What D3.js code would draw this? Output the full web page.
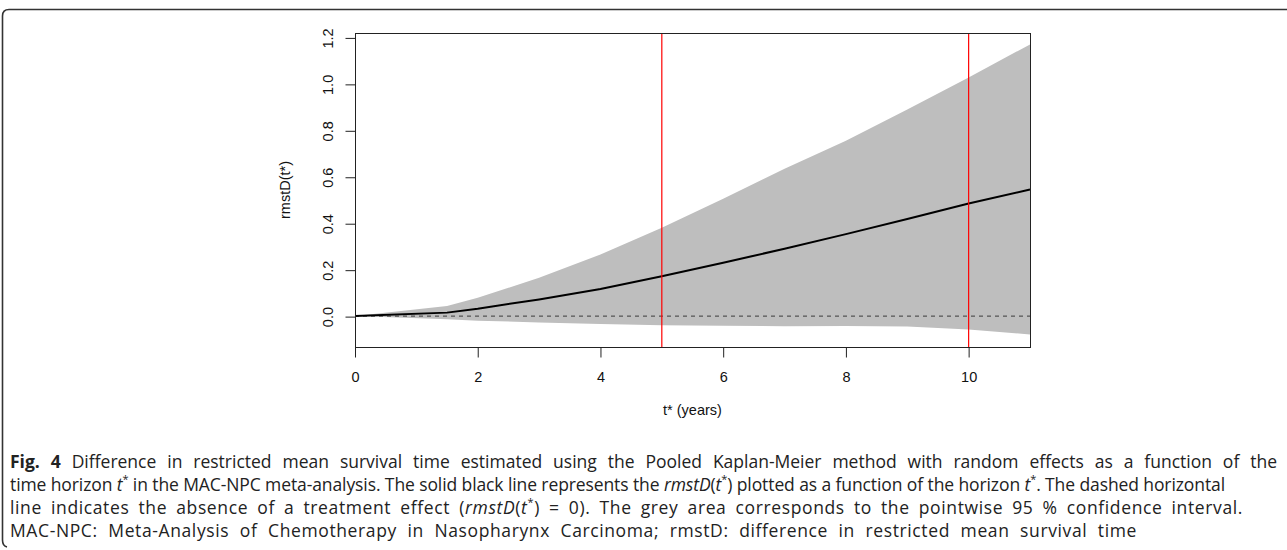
<!DOCTYPE html>
<html><head><meta charset="utf-8">
<script src="https://cdn.jsdelivr.net/npm/d3@7/dist/d3.min.js"></script>
<style>
html,body{margin:0;padding:0;background:#fff;}
svg{display:block;}
</style></head>
<body>
<svg id="fig" width="1287" height="550"></svg>
<script>
// ---- data ----
const years  = [0, 1.5, 2, 3, 4, 5, 6, 7, 8, 9, 10, 11];
const rmstD  = [0, 0.015, 0.032, 0.072, 0.117, 0.172, 0.230, 0.290, 0.353, 0.418, 0.485, 0.545];
const upper  = [0, 0.044, 0.079, 0.165, 0.265, 0.380, 0.505, 0.635, 0.755, 0.890, 1.027, 1.170];
const lower  = [0, -0.014, -0.020, -0.027, -0.034, -0.039, -0.041, -0.044, -0.043, -0.045, -0.058, -0.079];
const horizons = [5, 10];
const xTicks = [0, 2, 4, 6, 8, 10];
const yTicks = [0.0, 0.2, 0.4, 0.6, 0.8, 1.0, 1.2];
const xLimits = [0, 11];
const yLimits = [-0.133, 1.219];
const xTitle = "t* (years)";
const yTitle = "rmstD(t*)";

const svg = d3.select("#fig");
const box = {left: 355, right: 1030, top: 33, bottom: 347};
const x = d3.scaleLinear().domain(xLimits).range([box.left, box.right]);
const y = d3.scaleLinear().domain(yLimits).range([box.bottom, box.top]);

const rows = years.map((t, i) => ({t, m: rmstD[i], lo: lower[i], hi: upper[i]}));

// figure border (rounded, open on right)
svg.append("path")
  .attr("d", "M1287,9.5 H9 Q2.5,9.5 2.5,16 V540 Q2.5,546 7,547")
  .attr("fill", "none").attr("stroke", "#333").attr("stroke-width", 1.6);

const fontChart = "'Liberation Sans', Arial, Helvetica, sans-serif";

// confidence band
svg.append("path").datum(rows)
  .attr("d", d3.area().x(d => x(d.t)).y0(d => y(d.lo)).y1(d => y(d.hi)))
  .attr("fill", "#bebebe").attr("stroke", "none");

// dashed zero line
svg.append("line")
  .attr("x1", x(xLimits[0])).attr("x2", x(xLimits[1]))
  .attr("y1", y(0)).attr("y2", y(0))
  .attr("stroke", "#3a3a3a").attr("stroke-width", 1).attr("stroke-dasharray", "4,4");

// estimate line
svg.append("path").datum(rows)
  .attr("d", d3.line().x(d => x(d.t)).y(d => y(d.m)))
  .attr("fill", "none").attr("stroke", "#000").attr("stroke-width", 2);

// plot box
svg.append("rect")
  .attr("x", box.left + 0.5).attr("y", box.top + 0.5)
  .attr("width", box.right - box.left).attr("height", box.bottom - box.top)
  .attr("fill", "none").attr("stroke", "#222").attr("stroke-width", 1);

// vertical horizon lines
svg.selectAll("line.h").data(horizons).enter().append("line")
  .attr("class", "h")
  .attr("x1", d => x(d)).attr("x2", d => x(d))
  .attr("y1", box.top + 1).attr("y2", box.bottom)
  .attr("stroke", "#ff0000").attr("stroke-width", 1.2);

// x axis
const xAxis = d3.axisBottom(x).tickValues(xTicks).tickSize(10).tickPadding(14)
  .tickFormat(d3.format("d"));
const gx = svg.append("g").attr("transform", `translate(0,${box.bottom + 0.5})`).call(xAxis);
gx.select(".domain").attr("d", `M${x(xTicks[0])},0H${x(xTicks[xTicks.length-1])}`).attr("stroke", "#222");
gx.selectAll(".tick line").attr("stroke", "#222");
gx.selectAll("text").attr("font-family", fontChart).attr("font-size", 14.5).attr("fill", "#111");

// y axis
const yAxis = d3.axisLeft(y).tickValues(yTicks).tickSize(10).tickFormat(d3.format(".1f"));
const gy = svg.append("g").attr("transform", `translate(${box.left + 0.5},0.5)`).call(yAxis);
gy.select(".domain").attr("d", `M0,${y(yTicks[0])}V${y(yTicks[yTicks.length-1])}`).attr("stroke", "#222");
gy.selectAll(".tick line").attr("stroke", "#222");
gy.selectAll(".tick text")
  .attr("font-family", fontChart).attr("font-size", 14.5).attr("fill", "#111")
  .attr("x", null).attr("dy", null)
  .attr("text-anchor", "middle")
  .attr("transform", "translate(-23,0) rotate(-90)");

// axis titles
svg.append("text").text(xTitle)
  .attr("x", (box.left + box.right) / 2).attr("y", 415)
  .attr("text-anchor", "middle").attr("font-family", fontChart).attr("font-size", 14.5).attr("fill", "#111");
svg.append("text").text(yTitle)
  .attr("transform", `translate(290,${(box.top + box.bottom) / 2}) rotate(-90)`)
  .attr("text-anchor", "middle").attr("font-family", fontChart).attr("font-size", 14.5).attr("fill", "#111");

// caption
const capFont = "'Open Sans', 'Noto Sans', sans-serif";
const capLines = [
  {y: 468, end: 1277, spread: false, parts: [["Fig. 4", "b"], [" Difference in restricted mean survival time estimated using the Pooled Kaplan-Meier method with random effects as a function of the", ""]]},
  {y: 491, end: 1225, spread: false, parts: [["time horizon ", ""], ["t", "i"], ["*", "sup"], [" in the MAC-NPC meta-analysis. The solid black line represents the ", ""], ["rmstD", "i"], ["(", ""], ["t", "i"], ["*", "sup"], [") plotted as a function of the horizon ", ""], ["t", "i"], ["*", "sup"], [". The dashed horizontal", ""]]},
  {y: 514, end: 1243, spread: true, parts: [["line indicates the absence of a treatment effect (", ""], ["rmstD", "i"], ["(", ""], ["t", "i"], ["*", "sup"], [") = 0). The grey area corresponds to the pointwise 95 % confidence interval.", ""]]},
  {y: 537, end: 1137, spread: true, parts: [["MAC-NPC: Meta-Analysis of Chemotherapy in Nasopharynx Carcinoma; rmstD: difference in restricted mean survival time", ""]]}
];
const capX = 10;
capLines.forEach(line => {
  const t = svg.append("text").attr("x", capX).attr("y", line.y)
    .attr("font-family", capFont).attr("font-size", 17.5).attr("fill", "#222");
  let raised = false;
  line.parts.forEach(([s, k]) => {
    const sp = t.append("tspan").text(s);
    if (k === "b") sp.attr("font-weight", "bold");
    if (k === "i") sp.attr("font-style", "italic");
    if (k === "sup") { sp.attr("font-size", 11).attr("dy", -8); raised = true; }
    else if (raised) { sp.attr("dy", 8); raised = false; }
  });
  const natural = t.node().getComputedTextLength();
  const target = line.end - capX;
  const full = line.parts.map(p => p[0]).join("");
  const spaces = (full.match(/ /g) || []).length;
  const extra = target - natural;
  if (extra >= 0) {
    if (line.spread) {
      t.style("letter-spacing", (0.5 * extra / full.length) + "px");
      t.style("word-spacing", (0.5 * extra / spaces) + "px");
    } else {
      t.style("word-spacing", (extra / spaces) + "px");
    }
  } else {
    t.style("letter-spacing", (extra / full.length) + "px");
  }
});
</script>
</body></html>
